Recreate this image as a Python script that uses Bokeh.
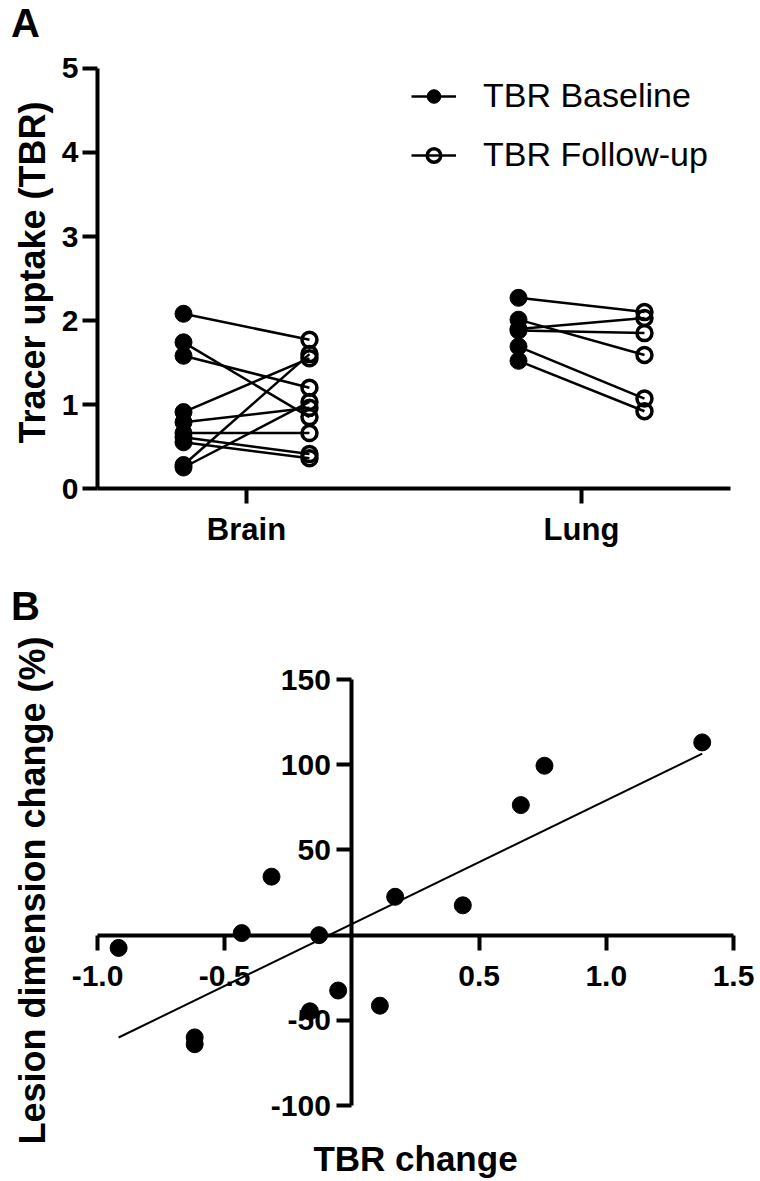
import math
from bokeh.plotting import figure
from bokeh.layouts import column
from bokeh.models import (Range1d, FixedTicker, NumeralTickFormatter, Legend,
                          LegendItem, Label)
from bokeh.embed import file_html
from bokeh.resources import INLINE

FONT = "Liberation Sans"

# ---------------- data ----------------
categories = ["Brain", "Lung"]
brain_baseline = [2.08, 1.74, 1.58, 0.91, 0.79, 0.66, 0.61, 0.55, 0.28, 0.25]
brain_followup = [1.77, 0.85, 1.20, 1.55, 0.96, 0.66, 0.41, 0.36, 1.60, 1.03]
lung_baseline = [2.27, 2.01, 1.90, 1.88, 1.69, 1.52]
lung_followup = [2.10, 1.59, 2.03, 1.85, 1.07, 0.92]
yticks_a = [0, 1, 2, 3, 4, 5]

tbr_change = [-0.917, -0.618, -0.618, -0.433, -0.316, -0.165, -0.129, -0.054,
              0.110, 0.170, 0.436, 0.664, 0.757, 1.377]
lesion_change = [-7.5, -60.0, -64.0, 1.2, 34.3, -44.7, 0.0, -32.5,
                 -41.4, 22.5, 17.5, 76.3, 99.4, 113.1]
fit_slope = 72.6
fit_intercept = 6.5
xticks_b = [-1.0, -0.5, 0.5, 1.0, 1.5]
yticks_b = [-100, -50, 50, 100, 150]

W = 756
HA = 580
HB = 598


def style_axis(ax, size="30px"):
    ax.axis_line_width = 4
    ax.axis_line_color = "black"
    ax.major_tick_line_width = 4
    ax.major_tick_line_color = "black"
    ax.major_tick_out = 15
    ax.major_tick_in = 0
    ax.minor_tick_line_color = None
    ax.major_label_text_font = FONT
    ax.major_label_text_font_style = "bold"
    ax.major_label_text_font_size = size
    ax.major_label_text_color = "black"


def bare(p):
    p.grid.visible = False
    p.outline_line_color = None
    p.title.visible = False
    p.min_border_left = 0
    p.min_border_right = 0
    p.min_border_top = 0
    p.min_border_bottom = 0


# ---------------- panel A ----------------
pa = figure(width=W, height=HA, x_range=Range1d(0.2657, 2.5224), y_range=Range1d(-1.0952, 5.8095),
            output_backend="svg", toolbar_location=None)
bare(pa)

off = 0.188
groups = [(brain_baseline, brain_followup), (lung_baseline, lung_followup)]
x0, y0, x1, y1 = [], [], [], []
for i, (b, f) in enumerate(groups):
    pos = i + 1
    x0 += [pos - off] * len(b)
    y0 += list(b)
    x1 += [pos + off] * len(f)
    y1 += list(f)

seg = pa.segment(x0=x0, y0=y0, x1=x1, y1=y1, line_color="black", line_width=2.5)
base = pa.scatter(x=x0, y=y0, size=17, marker="circle", fill_color="black", line_color="black")
foll = pa.scatter(x=x1, y=y1, size=15, marker="circle", fill_color=None,
                  line_color="black", line_width=3.5)

legend = Legend(items=[LegendItem(label="TBR Baseline", renderers=[seg, base]),
                       LegendItem(label="TBR Follow-up", renderers=[seg, foll])],
                location=(411, HA - 174))
legend.background_fill_alpha = 0
legend.border_line_color = None
legend.padding = 0
legend.margin = 0
legend.spacing = 20
legend.glyph_width = 45
legend.glyph_height = 34
legend.label_height = 34
legend.label_standoff = 27
legend.label_text_font = FONT
legend.label_text_font_size = "34px"
legend.label_text_color = "black"
pa.add_layout(legend)

style_axis(pa.xaxis, "31px")
style_axis(pa.yaxis, "30px")
pa.yaxis.fixed_location = 0.555
pa.yaxis.bounds = (0, 5)
pa.yaxis.ticker = FixedTicker(ticks=yticks_a)
pa.yaxis.major_label_standoff = 4
pa.xaxis.fixed_location = 0
pa.xaxis.bounds = (0.555, 2.445)
pa.xaxis.ticker = FixedTicker(ticks=[1, 2])
pa.xaxis.major_label_overrides = {i + 1: c for i, c in enumerate(categories)}
pa.xaxis.major_label_standoff = 8

pa.add_layout(Label(x=32, y=HA - 272, x_units="screen", y_units="screen",
                    text="Tracer uptake (TBR)", angle=math.pi / 2,
                    text_font=FONT, text_font_style="bold", text_font_size="36px",
                    text_align="center", text_baseline="middle", text_color="black"))
pa.add_layout(Label(x=25, y=HA - 22, x_units="screen", y_units="screen", text="A",
                    text_font=FONT, text_font_style="bold", text_font_size="40px",
                    text_align="center", text_baseline="middle", text_color="black"))

# ---------------- panel B ----------------
TOPB = HA
pb = figure(width=W, height=HB, x_range=Range1d(-1.3813, 1.5904), y_range=Range1d(-142.8, 208.1),
            output_backend="svg", toolbar_location=None)
bare(pb)

pb.scatter(x=tbr_change, y=lesion_change, size=17, marker="circle", color="black")
fx = [min(tbr_change), max(tbr_change)]
fy = [fit_slope * v + fit_intercept for v in fx]
pb.line(x=fx, y=fy, line_color="black", line_width=2)

style_axis(pb.xaxis)
style_axis(pb.yaxis)
pb.xaxis.fixed_location = 0
pb.yaxis.fixed_location = 0
pb.xaxis.bounds = (-1.0, 1.5)
pb.yaxis.bounds = (-100, 150)
pb.xaxis.ticker = FixedTicker(ticks=xticks_b)
pb.xaxis.formatter = NumeralTickFormatter(format="0.0")
pb.xaxis.major_label_standoff = 16
pb.yaxis.ticker = FixedTicker(ticks=yticks_b)
pb.yaxis.formatter = NumeralTickFormatter(format="0")
pb.yaxis.major_label_standoff = 6

pb.add_layout(Label(x=32, y=HB - (890 - TOPB), x_units="screen", y_units="screen",
                    text="Lesion dimension change (%)", angle=math.pi / 2,
                    text_font=FONT, text_font_style="bold", text_font_size="36px",
                    text_align="center", text_baseline="middle", text_color="black"))
pb.add_layout(Label(x=415, y=HB - (1158 - TOPB), x_units="screen", y_units="screen",
                    text="TBR change",
                    text_font=FONT, text_font_style="bold", text_font_size="35px",
                    text_align="center", text_baseline="middle", text_color="black"))
pb.add_layout(Label(x=25, y=HB - (605 - TOPB), x_units="screen", y_units="screen", text="B",
                    text_font=FONT, text_font_style="bold", text_font_size="40px",
                    text_align="center", text_baseline="middle", text_color="black"))

layout = column(pa, pb, spacing=0)
open("out.html", "w").write(file_html(layout, INLINE))
